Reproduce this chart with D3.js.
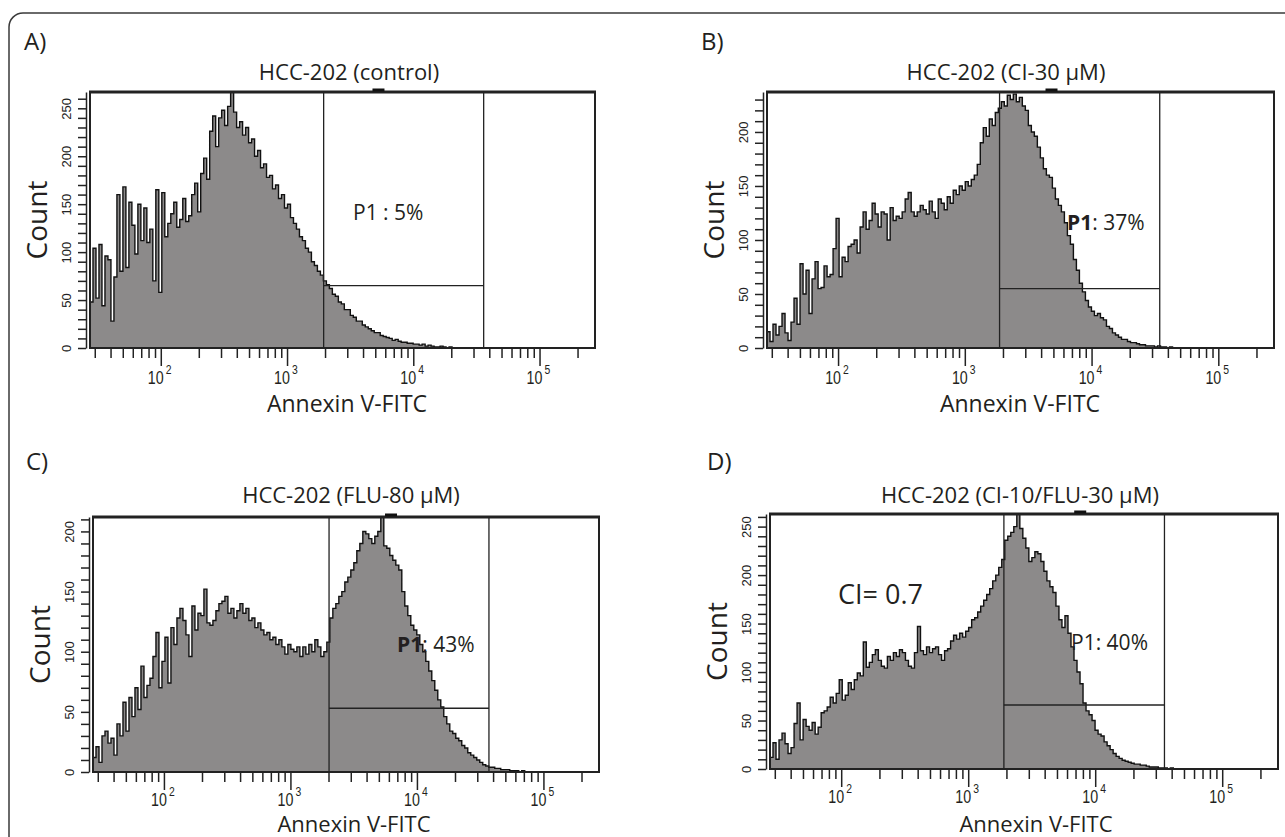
<!DOCTYPE html>
<html>
<head>
<meta charset="utf-8">
<script src="https://cdn.jsdelivr.net/npm/d3@7/dist/d3.min.js"></script>
<style>
body{margin:0;background:#fff;}
svg text{font-family:"Open Sans","Noto Sans",sans-serif;fill:#231f20;}
.axis text{font-family:"Liberation Sans",Arial,sans-serif;font-size:13px;fill:#222;}
.axis line,.axis path{stroke:#222;stroke-width:1.5;}
</style>
</head>
<body>
<script>
//panel texts
var panelIds = ["A)", "B)", "C)", "D)"];
var titles = ["HCC-202 (control)", "HCC-202 (CI-30 \u03bcM)", "HCC-202 (FLU-80 \u03bcM)", "HCC-202 (CI-10/FLU-30 \u03bcM)"];
var p1Values = ["5%", "37%", "43%", "40%"];
var xLabel = "Annexin V-FITC";
var yLabel = "Count";
var ciText = "CI= 0.7";

//axis ranges
var xMin = 27.5, xMax = 275000;
var countMax = [267, 237, 212, 263];
var yTickLabels = [[0,50,100,150,200,250],[0,50,100,150,200],[0,50,100,150,200],[0,50,100,150,200,250]];
var xDecades = [2, 3, 4, 5];
var xTicks = [30,40,50,60,70,80,90,100,200,300,400,500,600,700,800,900,1000,2000,3000,4000,5000,6000,7000,8000,9000,
              10000,20000,30000,40000,50000,60000,70000,80000,90000,100000,200000];

//gates P1 (annexin range, count level) and top markers
var gateLo = [1950, 1880, 2020, 1910];
var gateHi = [36100, 34500, 37100, 35100];
var gateCount = [65, 55, 53, 66];
var markerX = [5300, 4830, 6240, 7620];

//histogram bin width in log10 units, bins start at xMin
var binLog = 0.0237;
var countsA = [48,104,52,108,44,96,92,28,74,160,80,168,84,152,128,98,150,112,146,110,124,70,165,58,162,116,130,140,152,126,
  134,156,132,138,160,172,142,182,198,176,226,242,210,240,248,232,252,267,246,230,236,222,230,214,218,200,206,188,192,178,
  180,166,170,156,160,146,150,136,130,124,116,112,104,100,90,86,80,76,70,66,62,56,54,48,46,40,40,34,32,28,
  28,24,22,20,18,16,16,13,12,11,10,8,9,7,6,6,5,5,4,4,3,4,2,3,2,1,1,2,1,0,1,0];
var countsB = [15,6,22,12,20,32,14,7,24,46,22,78,50,72,32,64,80,55,56,76,66,68,92,120,66,84,80,94,96,100,
  88,112,126,110,118,134,124,112,126,124,100,130,118,122,120,126,138,144,126,122,126,132,128,124,136,126,120,138,134,128,
  140,134,146,142,150,146,154,150,156,160,170,190,204,196,212,206,218,222,228,224,234,230,235,228,232,224,220,206,200,196,
  186,176,166,160,158,148,138,132,126,116,104,96,82,72,60,52,44,38,34,30,32,28,26,20,18,14,12,10,8,8,
  6,5,5,4,3,3,2,2,2,1,2,1,1,0,1,0];
var countsC = [12,21,8,30,34,24,28,14,40,30,58,34,62,46,70,52,88,62,72,78,96,116,70,92,112,74,120,106,128,136,
  126,114,96,138,118,132,130,152,124,122,126,134,140,142,146,132,136,128,134,140,132,136,126,128,120,124,118,114,116,110,
  112,106,110,104,98,106,102,100,104,96,104,98,106,100,110,104,96,100,108,128,136,140,146,150,158,162,168,174,184,190,
  200,198,194,190,196,200,212,188,186,180,176,172,168,150,138,130,122,118,114,106,100,92,84,76,68,60,54,46,40,34,
  32,28,26,22,20,16,14,12,10,8,6,5,4,4,3,3,2,2,2,1,1,1,0,1,0];
var countsD = [12,27,10,30,37,26,16,22,47,68,30,51,44,40,48,36,43,58,60,64,74,68,78,92,71,76,89,82,92,99,
  96,131,105,110,118,123,112,106,104,116,112,120,116,123,120,112,106,104,120,147,122,118,126,120,124,126,118,112,122,124,
  132,138,134,140,136,142,146,154,156,162,168,174,180,186,194,200,208,216,236,240,244,250,263,248,238,228,214,218,224,222,
  214,204,194,188,182,168,154,146,158,140,126,112,100,88,68,60,56,50,40,36,34,28,24,20,16,13,11,9,8,7,
  6,5,5,4,4,3,2,2,2,1,1,1,0,1,0];
var allCounts = [countsA, countsB, countsC, countsD];

//layout of the four panels (frame boxes and text anchors)
var frames = [
  {l:90,  t:92,  r:595,  b:348, id:[24,50],   title:[349,80],   xlab:[347,412, 23],  p1:[353,220],  p1Bold:false},
  {l:767, t:92,  r:1274, b:348, id:[701,50],  title:[1006,80],  xlab:[1020,412, 23], p1:[1067,230], p1Bold:true},
  {l:93,  t:517, r:599,  b:772, id:[26,470],  title:[351,503],  xlab:[354,832, 22],  p1:[397,652],  p1Bold:true},
  {l:770, t:514, r:1278, b:769, id:[707,470], title:[1020,503], xlab:[1036,832, 22], p1:[1071,650], p1Bold:false}
];

var width = 1285, height = 837;

var svg = d3.select("body")
    .append("svg")
    .attr("width", width)
    .attr("height", height);

//outer rounded border
svg.append("rect")
    .attr("x", 9).attr("y", 13)
    .attr("width", 1400).attr("height", 1000)
    .attr("rx", 14)
    .attr("fill", "none")
    .attr("stroke", "#3a3a3a")
    .attr("stroke-width", 1.5);

frames.forEach(function(f, k){
    var xs = d3.scaleLog().domain([xMin, xMax]).range([f.l, f.r]);
    var ys = d3.scaleLinear().domain([0, countMax[k]]).range([f.b, f.t]);
    var g = svg.append("g").attr("class", "panel");

    //clip to the plot frame
    g.append("clipPath").attr("id", "clip" + k)
        .append("rect")
        .attr("x", f.l).attr("y", f.t)
        .attr("width", f.r - f.l).attr("height", f.b - f.t);

    //histogram bins
    var lg0 = Math.log10(xMin);
    var bins = allCounts[k].map(function(c, i){
        return {x0: Math.pow(10, lg0 + i * binLog), c: Math.min(c, countMax[k])};
    });
    bins.push({x0: Math.pow(10, lg0 + allCounts[k].length * binLog), c: 0});

    var area = d3.area()
        .curve(d3.curveStepAfter)
        .x(function(d){ return xs(d.x0); })
        .y0(ys(0))
        .y1(function(d){ return ys(d.c); });
    var line = d3.line()
        .curve(d3.curveStepAfter)
        .x(function(d){ return xs(d.x0); })
        .y(function(d){ return ys(d.c); });

    var hist = g.append("g").attr("clip-path", "url(#clip" + k + ")");
    hist.append("path")
        .datum(bins)
        .attr("d", area)
        .attr("fill", "#8c8a8a");
    hist.append("path")
        .datum(bins)
        .attr("d", line)
        .attr("fill", "none")
        .attr("stroke", "#111")
        .attr("stroke-width", 1.4);

    //gate P1
    [gateLo[k], gateHi[k]].forEach(function(v){
        g.append("line")
            .attr("x1", xs(v)).attr("x2", xs(v))
            .attr("y1", f.t).attr("y2", f.b)
            .attr("stroke", "#222").attr("stroke-width", 1.3);
    });
    g.append("line")
        .attr("x1", xs(gateLo[k])).attr("x2", xs(gateHi[k]))
        .attr("y1", ys(gateCount[k])).attr("y2", ys(gateCount[k]))
        .attr("stroke", "#222").attr("stroke-width", 1.3);

    //plot frame
    g.append("rect")
        .attr("x", f.l).attr("y", f.t)
        .attr("width", f.r - f.l).attr("height", f.b - f.t)
        .attr("fill", "none")
        .attr("stroke", "#222")
        .attr("stroke-width", 2);
    g.append("line")
        .attr("x1", f.l - 1).attr("x2", f.r + 1)
        .attr("y1", f.t).attr("y2", f.t)
        .attr("stroke", "#222").attr("stroke-width", 3);
    g.append("rect")
        .attr("x", xs(markerX[k]) - 6).attr("y", f.t - 3.5)
        .attr("width", 12).attr("height", 3)
        .attr("fill", "#111");

    //y axis
    var yAxis = d3.axisLeft(ys)
        .tickValues(d3.range(0, countMax[k], 10))
        .tickSize(8)
        .tickSizeOuter(0)
        .tickFormat(function(d){ return yTickLabels[k].indexOf(d) >= 0 ? d : ""; });
    var ya = g.append("g")
        .attr("class", "axis")
        .attr("transform", "translate(" + (f.l - 4) + ",0)")
        .call(yAxis);
    ya.select(".domain").attr("stroke-width", 2);
    ya.selectAll(".tick text")
        .attr("x", 0).attr("y", 0).attr("dy", 0)
        .attr("text-anchor", "middle")
        .attr("transform", "translate(-15,0) rotate(-90)");

    //x axis
    var xAxis = d3.axisBottom(xs)
        .tickValues(xTicks)
        .tickSize(10)
        .tickSizeOuter(0)
        .tickFormat("");
    var xa = g.append("g")
        .attr("class", "axis")
        .attr("transform", "translate(0," + f.b + ")")
        .call(xAxis);
    xa.select(".domain").remove();
    xa.selectAll(".tick line")
        .filter(function(d){ return xDecades.indexOf(Math.round(Math.log10(d) * 1000) / 1000) >= 0; })
        .attr("y2", 18);

    var labY = k < 2 ? 36 : 34;
    xDecades.forEach(function(p){
        var px = xs(Math.pow(10, p));
        g.append("text")
            .attr("transform", "translate(" + (px - 5) + "," + (f.b + labY) + ") scale(0.75,1)")
            .attr("text-anchor", "middle")
            .style("font-family", "'Liberation Sans',Arial,sans-serif")
            .style("font-size", "19px")
            .text("10");
        g.append("text")
            .attr("transform", "translate(" + (px + 5) + "," + (f.b + labY - 10) + ") scale(0.8,1)")
            .style("font-family", "'Liberation Sans',Arial,sans-serif")
            .style("font-size", "13px")
            .text(p);
    });

    //texts
    g.append("text")
        .attr("x", f.id[0]).attr("y", f.id[1])
        .style("font-size", "24px")
        .text(panelIds[k]);
    g.append("text")
        .attr("x", f.title[0]).attr("y", f.title[1])
        .attr("text-anchor", "middle")
        .style("font-size", "22px")
        .text(titles[k]);
    g.append("text")
        .attr("x", f.xlab[0]).attr("y", f.xlab[1])
        .attr("text-anchor", "middle")
        .style("font-size", f.xlab[2] + "px")
        .text(xLabel);
    g.append("text")
        .attr("transform", "translate(" + (f.l - 43) + "," + ((f.t + f.b) / 2) + ") rotate(-90)")
        .attr("text-anchor", "middle")
        .style("font-size", "28px")
        .text(yLabel);

    var p1 = g.append("text")
        .attr("x", f.p1[0]).attr("y", f.p1[1])
        .style("font-size", "21px");
    p1.append("tspan")
        .style("font-weight", f.p1Bold ? "700" : "400")
        .text("P1");
    p1.append("tspan")
        .text(k == 0 ? " : " + p1Values[k] : ": " + p1Values[k]);

    if(k == 3){
        g.append("text")
            .attr("x", 838).attr("y", 604)
            .style("font-size", "27px")
            .text(ciText);
    }
});
</script>
</body>
</html>
